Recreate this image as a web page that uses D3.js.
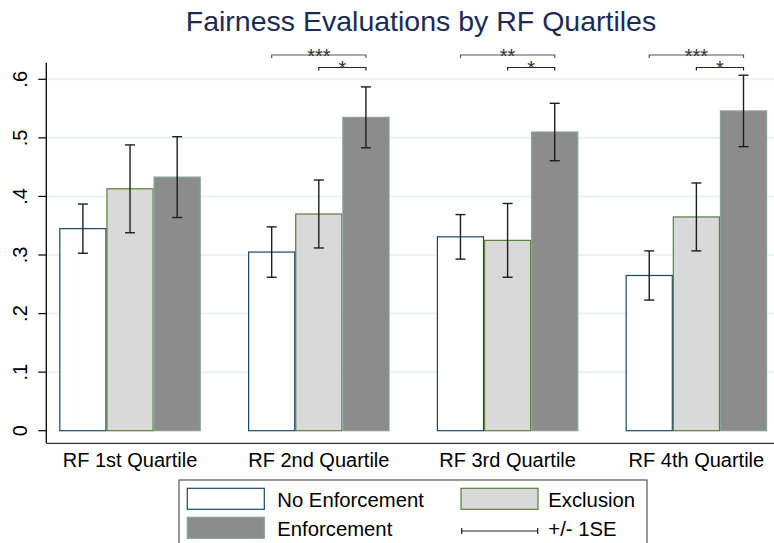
<!DOCTYPE html>
<html><head><meta charset="utf-8">
<script src="https://cdn.jsdelivr.net/npm/d3@7"></script>
<style>body{margin:0;background:#fff;}svg{display:block;font-family:"Liberation Sans",Arial,sans-serif;}</style>
</head><body>
<svg id="c" width="774" height="543"></svg>
<script>
const categories = ["RF 1st Quartile","RF 2nd Quartile","RF 3rd Quartile","RF 4th Quartile"];
const seriesNames = ["No Enforcement","Exclusion","Enforcement"];
const noEnforcement = [0.345, 0.305, 0.331, 0.265];
const noEnforcementSE = [0.042, 0.043, 0.038, 0.042];
const exclusion = [0.413, 0.370, 0.325, 0.365];
const exclusionSE = [0.075, 0.058, 0.063, 0.058];
const enforcement = [0.433, 0.535, 0.510, 0.546];
const enforcementSE = [0.069, 0.052, 0.049, 0.061];
const yTicks = [0, 0.1, 0.2, 0.3, 0.4, 0.5, 0.6];
const yTickLabels = ["0", ".1", ".2", ".3", ".4", ".5", ".6"];
// significance brackets: [category index, from series, to series, label, level]
const brackets = [
  [1, 0, 2, "***", 0], [1, 1, 2, "*", 1],
  [2, 0, 2, "**", 0],  [2, 1, 2, "*", 1],
  [3, 0, 2, "***", 0], [3, 1, 2, "*", 1]
];

const values = [noEnforcement, exclusion, enforcement];
const ses = [noEnforcementSE, exclusionSE, enforcementSE];
const fills = ["#ffffff", "#d9d9d9", "#8c8c8c"];
const strokes = ["#1a476f", "#5b7d37", "#86a39a"];

const svg = d3.select("#c");
const plotLeft = 46.3, plotTop = 62.7, plotBottom = 443.3;

const x0 = d3.scaleBand().domain(categories).range([46.3, 780.1]).paddingInner(0.251).paddingOuter(0.069);
const x1 = d3.scaleBand().domain(seriesNames).range([0, x0.bandwidth()]);
const y = d3.scaleLinear().domain([0, 0.6]).range([430.7, 79.3]);

// gridlines
svg.append("g").selectAll("line").data(yTicks.filter(d => d > 0)).join("line")
  .attr("x1", plotLeft).attr("x2", 774)
  .attr("y1", d => y(d)).attr("y2", d => y(d))
  .attr("stroke", "#eaf2f3").attr("stroke-width", 2);

// bars
const rows = [];
categories.forEach((c, i) => seriesNames.forEach((s, j) => rows.push({c, s, j, v: values[j][i], se: ses[j][i]})));
svg.append("g").selectAll("rect").data(rows).join("rect")
  .attr("x", d => x0(d.c) + x1(d.s) + 0.5)
  .attr("y", d => y(d.v))
  .attr("width", x1.bandwidth() - 1)
  .attr("height", d => y(0) - y(d.v))
  .attr("fill", d => fills[d.j]).attr("stroke", d => strokes[d.j]).attr("stroke-width", 1.2);

// error bars
const eb = svg.append("g").attr("stroke", "#1e1e1e").attr("stroke-width", 1.4);
rows.forEach(d => {
  const cx = x0(d.c) + x1(d.s) + x1.bandwidth() / 2;
  const yt = y(d.v + d.se), yb = y(d.v - d.se);
  eb.append("line").attr("x1", cx).attr("x2", cx).attr("y1", yt).attr("y2", yb);
  eb.append("line").attr("x1", cx - 5).attr("x2", cx + 5).attr("y1", yt).attr("y2", yt);
  eb.append("line").attr("x1", cx - 5).attr("x2", cx + 5).attr("y1", yb).attr("y2", yb);
});

// brackets
const bg = svg.append("g");
const levelY = [55, 67.5];
brackets.forEach(([ci, a, b, lab, lv]) => {
  const c = categories[ci];
  const xa = x0(c) + x1(seriesNames[a]) + x1.bandwidth() / 2;
  const xb = x0(c) + x1(seriesNames[b]) + x1.bandwidth() / 2;
  const ly = levelY[lv];
  bg.append("path").attr("d", `M${xa},${ly + 3}V${ly}H${xb}V${ly + 3}`)
    .attr("fill", "none").attr("stroke", lv === 0 ? "#555" : "#222").attr("stroke-width", 1.2);
  bg.append("text").attr("x", (xa + xb) / 2).attr("y", ly + 7.5).attr("text-anchor", "middle")
    .attr("font-size", 20).attr("fill", "#333").text(lab);
});

// y axis
svg.append("line").attr("x1", plotLeft).attr("x2", plotLeft).attr("y1", plotTop).attr("y2", plotBottom)
  .attr("stroke", "#000").attr("stroke-width", 1.3);
const yt = svg.append("g");
yTicks.forEach((t, i) => {
  yt.append("line").attr("x1", 38.3).attr("x2", plotLeft).attr("y1", y(t)).attr("y2", y(t)).attr("stroke", "#000").attr("stroke-width", 1.2);
  yt.append("text").attr("transform", `translate(27,${y(t)}) rotate(-90)`)
    .attr("text-anchor", "middle").attr("font-size", 20).attr("fill", "#000").text(yTickLabels[i]);
});

// x axis
svg.append("line").attr("x1", plotLeft).attr("x2", 774).attr("y1", plotBottom).attr("y2", plotBottom)
  .attr("stroke", "#333").attr("stroke-width", 1.3);
svg.append("g").selectAll("text").data(categories).join("text")
  .attr("x", d => x0(d) + x0.bandwidth() / 2).attr("y", 467.3)
  .attr("text-anchor", "middle").attr("font-size", 20).attr("fill", "#000").text(d => d);

// title
svg.append("text").attr("x", 421).attr("y", 31).attr("text-anchor", "middle")
  .attr("font-size", 28.5).attr("fill", "#1c2b53").text("Fairness Evaluations by RF Quartiles");

// legend
const lg = svg.append("g");
lg.append("rect").attr("x", 179).attr("y", 480).attr("width", 468).attr("height", 80)
  .attr("fill", "#fff").attr("stroke", "#555").attr("stroke-width", 1.2);
const legItems = [
  {type: "bar", j: 0, x: 187.3, y: 488.3, tx: 277.3, ty: 507},
  {type: "bar", j: 1, x: 461, y: 488.3, tx: 548.3, ty: 507},
  {type: "bar", j: 2, x: 187.3, y: 517.3, tx: 277.3, ty: 535.5},
  {type: "se", x: 461.7, y: 531, tx: 548.3, ty: 535.5}
];
legItems.forEach(it => {
  if (it.type === "bar") {
    lg.append("rect").attr("x", it.x).attr("y", it.y).attr("width", 77).attr("height", 21)
      .attr("fill", fills[it.j]).attr("stroke", strokes[it.j]).attr("stroke-width", 1.2);
    lg.append("text").attr("x", it.tx).attr("y", it.ty).attr("font-size", 20.3).attr("fill", "#000").text(seriesNames[it.j]);
  } else {
    lg.append("path").attr("d", `M${it.x},${it.y - 3}V${it.y + 3}M${it.x},${it.y}H${it.x + 76}M${it.x + 76},${it.y - 3}V${it.y + 3}`)
      .attr("stroke", "#1e1e1e").attr("stroke-width", 1.2).attr("fill", "none");
    lg.append("text").attr("x", it.tx).attr("y", it.ty).attr("font-size", 20.3).attr("fill", "#000").text("+/- 1SE");
  }
});
</script>
</body></html>
